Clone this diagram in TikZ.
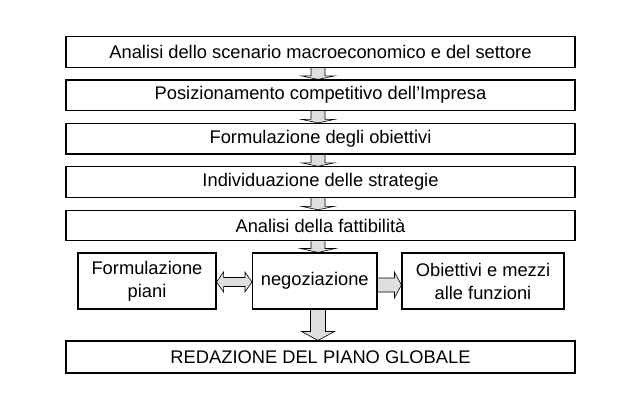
\documentclass[tikz,border=0pt]{standalone}
\usepackage{fontspec}
\setmainfont{Liberation Sans}
\usetikzlibrary{calc,backgrounds}

\tikzset{
  stepbox/.style={draw, line width=1.1pt, minimum width=509pt, minimum height=30.5pt,
    inner sep=0pt, font=\fontsize{18.3}{22}\selectfont},
  sidebox/.style={draw, line width=1.1pt, minimum height=56pt, align=center,
    inner sep=0pt, font=\fontsize{18.3}{23}\selectfont},
  fatarrow/.style={draw, line width=0.6pt, fill=black!13},
}

% fat arrow downwards: from, to, shaft half width, head half width, head length
\newcommand{\fatdown}[5]{%
  \filldraw[fatarrow] let \p1=(axis |- #1.south), \p2=(axis |- #2.north) in
    (\x1-#3pt,\y1) -- (\x1-#3pt,\y2+#5pt) -- (\x1-#4pt,\y2+#5pt) -- (\x1,\y2)
    -- (\x1+#4pt,\y2+#5pt) -- (\x1+#3pt,\y2+#5pt) -- (\x1+#3pt,\y1);
}
% fat arrow to the right: from, to, shaft half width, head half width, head length, row
\newcommand{\fatright}[6]{%
  \filldraw[fatarrow] let \p1=(#1.east |- #6), \p2=(#2.west |- #6) in
    (\x1,\y1+#3pt) -- (\x2-#5pt,\y1+#3pt) -- (\x2-#5pt,\y1+#4pt) -- (\x2,\y1)
    -- (\x2-#5pt,\y1-#4pt) -- (\x2-#5pt,\y1-#3pt) -- (\x1,\y1-#3pt);
}
% fat arrow both ways
\newcommand{\fatboth}[6]{%
  \filldraw[fatarrow] let \p1=(#1.east |- #6), \p2=(#2.west |- #6) in
    (\x1,\y1) -- (\x1+#5pt,\y1+#4pt) -- (\x1+#5pt,\y1+#3pt) -- (\x2-#5pt,\y1+#3pt)
    -- (\x2-#5pt,\y1+#4pt) -- (\x2,\y1) -- (\x2-#5pt,\y1-#4pt) -- (\x2-#5pt,\y1-#3pt)
    -- (\x1+#5pt,\y1-#3pt) -- (\x1+#5pt,\y1-#4pt) -- cycle;
}

\begin{document}
\begin{tikzpicture}[x=1pt,y=-1pt]
\useasboundingbox (0,0) rectangle (633,405);
\coordinate (axis) at (318,0);
\coordinate (rowone) at (0,282);
\coordinate (rowtwo) at (0,285);

% the steps
\node[stepbox] (scenario) at (320.5,51.8) {Analisi dello scenario macroeconomico e del settore};
\node[stepbox] (posizione) at (320.5,95.2) {Posizionamento competitivo dell’Impresa};
\node[stepbox] (obiettivi) at (320.5,138.7) {Formulazione degli obiettivi};
\node[stepbox] (strategie) at (320.5,182.1) {Individuazione delle strategie};
\node[stepbox] (fattibilita) at (320.5,225.6) {Analisi della fattibilità};

% middle row
\node[sidebox, minimum width=138pt] (piani) at (147,281) {Formulazione\\piani};
\node[sidebox, minimum width=124.5pt] (negoziazione) at (314.75,281) {negoziazione};
\node[sidebox, minimum width=162pt] (funzioni) at (483,281) {Obiettivi e mezzi\\alle funzioni};

\node[stepbox, minimum height=32pt] (globale) at (320.5,357) {REDAZIONE DEL PIANO GLOBALE};

% arrows
\begin{scope}[on background layer]
\fatdown{scenario}{posizione}{7}{16.5}{3.5}
\fatdown{posizione}{obiettivi}{7}{16.5}{3.5}
\fatdown{obiettivi}{strategie}{7}{16.5}{3.5}
\fatdown{strategie}{fattibilita}{7}{16.5}{3.5}
\fatdown{fattibilita}{negoziazione}{7}{17.5}{4}
\fatdown{negoziazione}{globale}{7.5}{16.5}{9}
\fatright{negoziazione}{funzioni}{7}{13}{7}{rowtwo}
\fatboth{piani}{negoziazione}{4.5}{10}{7}{rowone}
\end{scope}
\end{tikzpicture}
\end{document}
